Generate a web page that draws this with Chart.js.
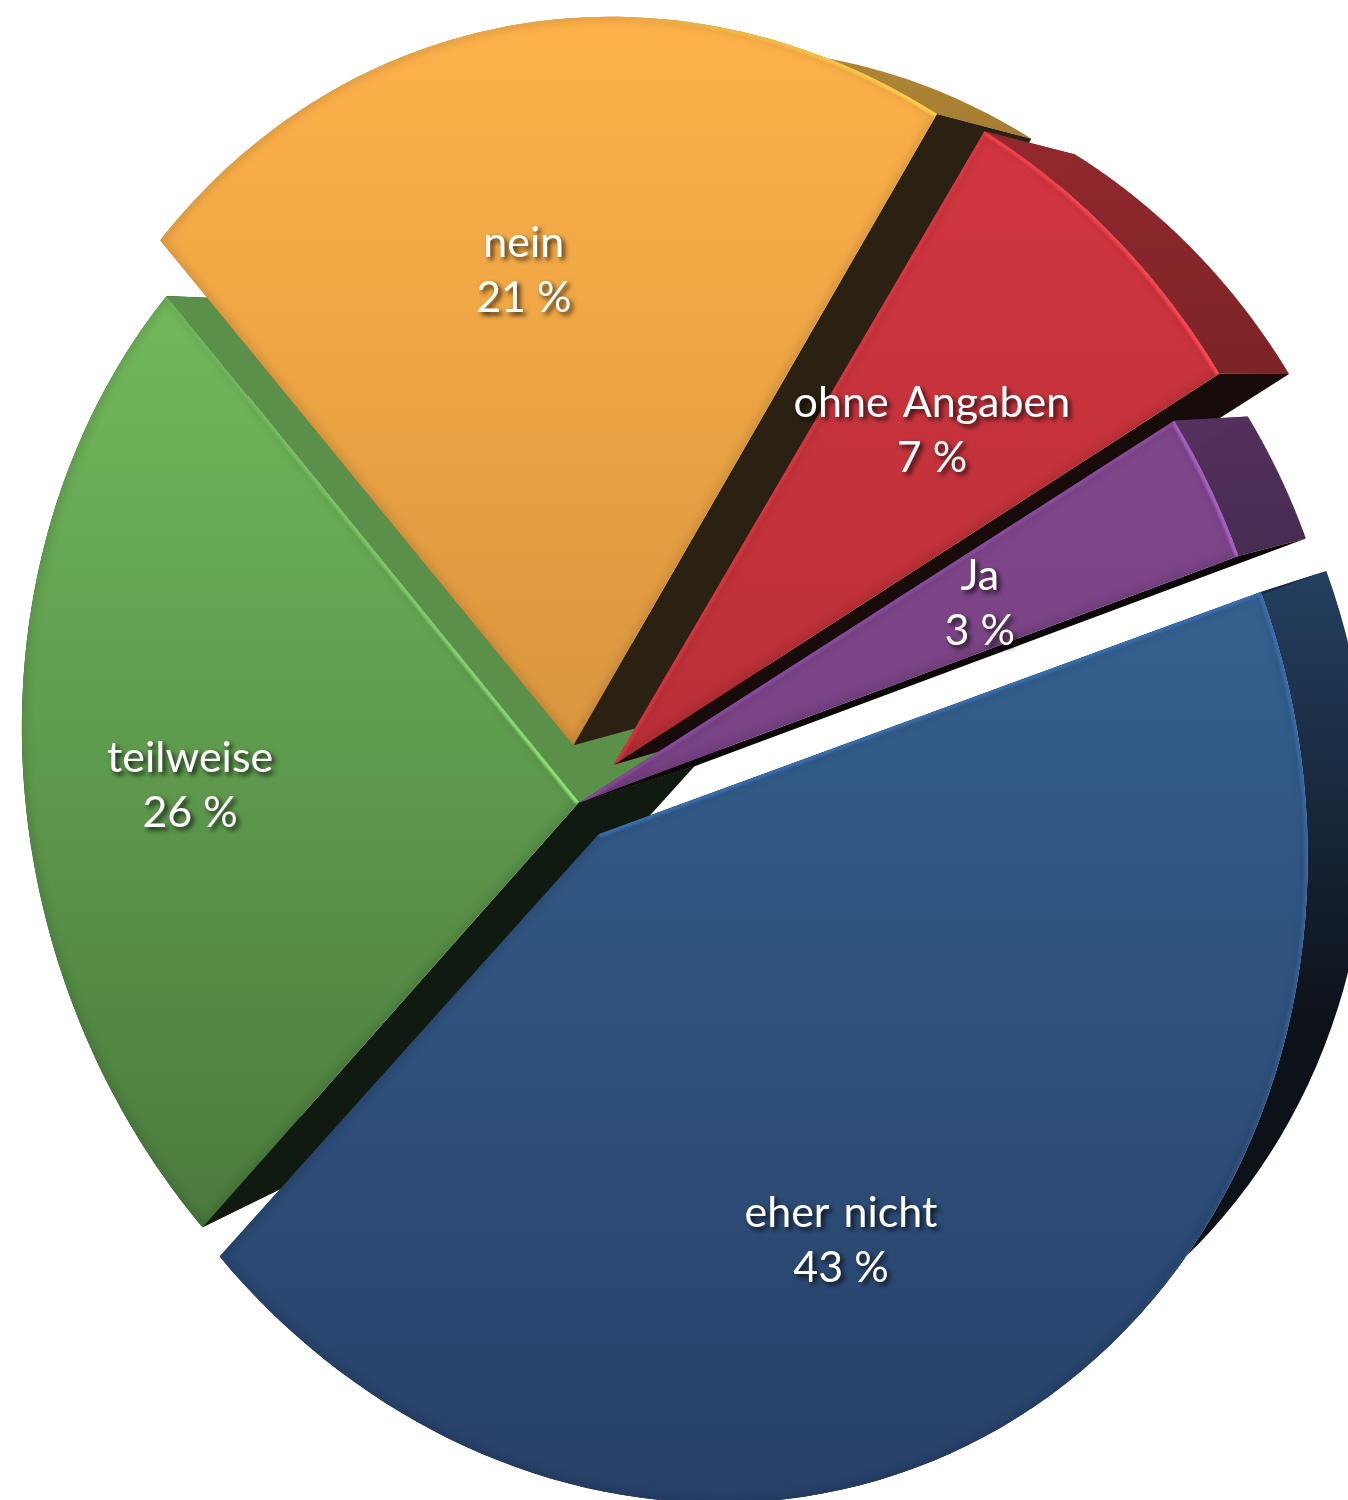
<!DOCTYPE html>
<html><head><meta charset="utf-8"><style>html,body{margin:0;background:#fff}canvas{display:block}</style>
<script src="https://cdn.jsdelivr.net/npm/chart.js@4"></script></head><body><canvas id="c" width="1348" height="1500"></canvas>
<script>
const categories=['Ja','eher nicht','teilweise','nein','ohne Angaben'];
const values=[3,43,26,21,7];
const startAngle=-0.57654;
// view of the unit pie as a tilted 3D object: plane homography, depth column
const H=[554.31,28.94,582.30,-45.28,726.58,798.55,-0.117349,0.047354];
const V=[180.99,35.01,0.093359];
const explodeX=[-0.0038,0.0262,-0.0054,-0.0142,0.0502];
const explodeY=[0.0057,0.0498,0.0056,-0.0762,-0.0522];
const labelR=[0.665,0.669,0.676,0.670,0.663];
const labelShift=[0.002,0.004,-0.020,-0.008,0.002];
const faceTop=['#7f468a','#35608f','#72b95c','#ffb24a','#d23640'];
const faceBottom=['#784283','#274068','#4a7a3d','#d9963e','#b82f36'];
const ribbonTop=['#54305c','#243f60','#1a2a14','#b08535','#90282e'];
const ribbonBottom=['#482c52','#0d1118','#1a2a14','#9a7430','#7c2426'];
const ribbonReach=[1,0.55,1,1,1];
const startWall=['#54305c','#1b2a40','#111a10','#8a6a30','#90282e'];
const endWall=['#0b0707','#1b2a40','#5a9049','#2b2112','#170c0a'];
// edge, colour, alpha at start/end, fraction range
const rims=[[['arc','#a860c4',1,1,0,1],['a','#9050a8',.7,.7,0,1]],
 [['a','#3a70b0',.9,.9,0,1],['arc','#3a70b0',.9,0,0,.42]],
 [['b','#8fe878',1,.15,0,1]],
 [['arc','#ffd24a',0,1,.6,1]],
 [['arc','#ff4650',.8,1,0,1],['a','#e03a45',.7,.7,0,1]]];
const drawOrder=[2,3,4,0,1];
const N=90;
function proj(x,y,z){const X=H[0]*x+H[1]*y+H[2]+z*V[0],Y=H[3]*x+H[4]*y+H[5]+z*V[1],W=H[6]*x+H[7]*y+1+z*V[2];return [X/W,Y/W]}
function trace(ctx,pts){pts.forEach((q,j)=>j==0?ctx.moveTo(q[0],q[1]):ctx.lineTo(q[0],q[1]))}
function alpha(hex,a){const n=parseInt(hex.slice(1),16);return `rgba(${n>>16},${(n>>8)&255},${n&255},${a})`}
function drawSlice(ctx,i,a,b){
 const cx=explodeX[i],cy=explodeY[i];
 const arcPts=z=>Array.from({length:N+1},(_,s)=>{const t=a+(b-a)*s/N;return proj(cx+Math.cos(t),cy+Math.sin(t),z)});
 const ap0=proj(cx,cy,0),ap1=proj(cx,cy,1),f=arcPts(0),k=arcPts(1);
 const fill=(pts,col)=>{ctx.beginPath();trace(ctx,pts);ctx.closePath();ctx.fillStyle=col;ctx.fill()};
 const rY=k.map(q=>q[1]),r0=Math.min(...rY),r1=Math.max(...rY);
 let g=ctx.createLinearGradient(0,r0,0,r0+(r1-r0)*ribbonReach[i]);g.addColorStop(0,ribbonTop[i]);g.addColorStop(1,ribbonBottom[i]);
 fill([...f,...k.slice().reverse()],g);
 fill([ap0,f[0],k[0],ap1],startWall[i]);fill([ap0,f[N],k[N],ap1],endWall[i]);
 const ys=[ap0,...f].map(q=>q[1]),y0=Math.min(...ys),y1=Math.max(...ys);
 g=ctx.createLinearGradient(0,y0,0,y1);g.addColorStop(0,faceTop[i]);g.addColorStop(1,faceBottom[i]);
 fill([ap0,...f],g);
 ctx.save();ctx.beginPath();trace(ctx,[ap0,...f]);ctx.closePath();ctx.clip();
 ctx.save();ctx.filter='blur(4px)';ctx.strokeStyle='rgba(0,0,0,.14)';ctx.lineWidth=7;ctx.beginPath();trace(ctx,[ap0,...f]);ctx.closePath();ctx.stroke();ctx.restore();
 ctx.filter='blur(0.8px)';
 for(const [e,col,a0,a1,s0,s1] of rims[i]){
  let pts=e=='arc'?f.slice(Math.round(s0*N),Math.round(s1*N)+1):e=='a'?[ap0,f[0]]:[ap0,f[N]];
  const A=pts[0],B=pts[pts.length-1],lg=ctx.createLinearGradient(A[0],A[1],B[0],B[1]);lg.addColorStop(0,alpha(col,a0));lg.addColorStop(1,alpha(col,a1));
  ctx.strokeStyle=lg;ctx.lineWidth=7;ctx.beginPath();trace(ctx,pts);ctx.stroke()}
 ctx.restore();
}
const pie3d={id:'pie3d',beforeDatasetsDraw(chart){const ctx=chart.ctx,m=chart.getDatasetMeta(0);
 for(const i of drawOrder){const e=m.data[i].getProps(['startAngle','endAngle'],true);drawSlice(ctx,i,e.startAngle,e.endAngle)}
 ctx.save();ctx.font='43px Lato';ctx.textAlign='center';ctx.textBaseline='middle';ctx.fillStyle='#fff';ctx.shadowColor='rgba(0,0,0,.8)';ctx.shadowBlur=5;ctx.shadowOffsetX=3;ctx.shadowOffsetY=3;
 m.data.forEach((el,i)=>{const e=el.getProps(['startAngle','endAngle'],true),t=(e.startAngle+e.endAngle)/2+labelShift[i],q=proj(explodeX[i]+labelR[i]*Math.cos(t),explodeY[i]+labelR[i]*Math.sin(t),0);
  ctx.wordSpacing='3px';ctx.fillText(categories[i],q[0],q[1]-27);ctx.wordSpacing='0px';ctx.fillText(values[i]+' %',q[0],q[1]+28)});ctx.restore();return false}};
new Chart(document.getElementById('c'),{type:'pie',data:{labels:categories,datasets:[{data:values,backgroundColor:faceTop}]},plugins:[pie3d],options:{responsive:false,animation:false,rotation:(startAngle+Math.PI/2)*180/Math.PI,plugins:{legend:{display:false},tooltip:{enabled:false}}}});
</script></body></html>
